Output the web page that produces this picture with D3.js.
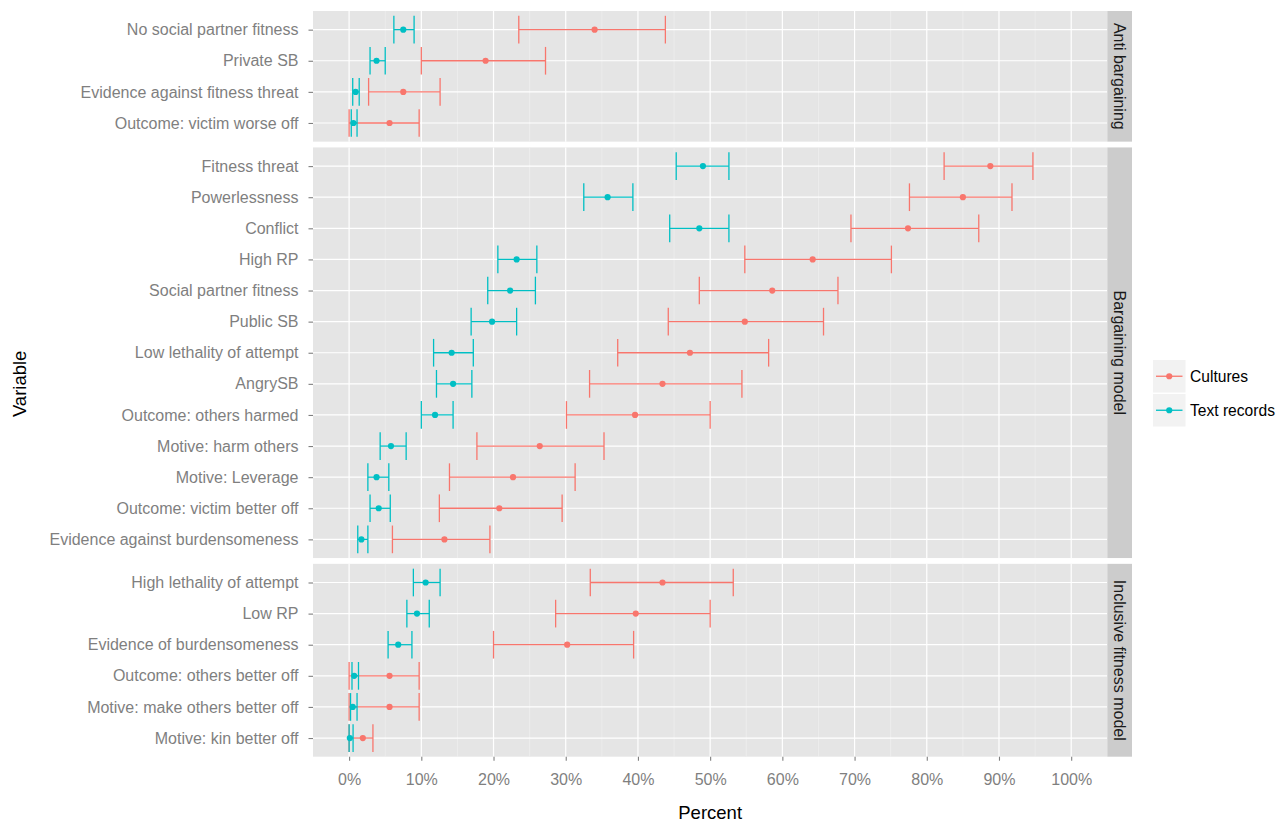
<!DOCTYPE html>
<html>
<head>
<meta charset="utf-8">
<script src="https://cdn.jsdelivr.net/npm/d3@7"></script>
<style>
  body { margin: 0; background: #fff; }
  svg { font-family: "Liberation Sans", Arial, sans-serif; }
</style>
</head>
<body>
<script>
// Data (percent)

const facetNames = ["Anti bargaining", "Bargaining model", "Inclusive fitness model"];

const variableNames = [
  "No social partner fitness", "Private SB", "Evidence against fitness threat", "Outcome: victim worse off",
  "Fitness threat", "Powerlessness", "Conflict", "High RP", "Social partner fitness", "Public SB",
  "Low lethality of attempt", "AngrySB", "Outcome: others harmed", "Motive: harm others",
  "Motive: Leverage", "Outcome: victim better off", "Evidence against burdensomeness",
  "High lethality of attempt", "Low RP", "Evidence of burdensomeness", "Outcome: others better off",
  "Motive: make others better off", "Motive: kin better off"
];
const variableFacet = [0,0,0,0, 1,1,1,1,1,1,1,1,1,1,1,1,1, 2,2,2,2,2,2];

const seriesNames = ["Cultures", "Text records"];
const seriesColors = ["#F8766D", "#00BFC4"];

const culturesMid = [34.0, 18.9, 7.5, 5.6, 88.8, 85.0, 77.4, 64.2, 58.6, 54.8, 47.2, 43.4, 39.6, 26.4, 22.7, 20.8, 13.2, 43.4, 39.7, 30.2, 5.6, 5.6, 1.9];
const culturesLo  = [23.5, 10.0, 2.7, 0.0, 82.4, 77.6, 69.5, 54.8, 48.5, 44.2, 37.2, 33.3, 30.1, 17.7, 13.9, 12.5, 6.0, 33.4, 28.6, 20.0, 0.0, 0.0, 0.0];
const culturesHi  = [43.8, 27.2, 12.6, 9.7, 94.7, 91.8, 87.2, 75.1, 67.7, 65.7, 58.1, 54.4, 50.0, 35.3, 31.3, 29.5, 19.5, 53.2, 50.0, 39.4, 9.7, 9.7, 3.3];

const textMid = [7.5, 3.8, 0.9, 0.6, 49.0, 35.8, 48.5, 23.2, 22.3, 19.8, 14.2, 14.4, 11.9, 5.8, 3.8, 4.1, 1.7, 10.6, 9.4, 6.8, 0.7, 0.5, 0.1];
const textLo  = [6.2, 2.9, 0.5, 0.3, 45.3, 32.5, 44.4, 20.6, 19.2, 16.9, 11.7, 12.1, 10.0, 4.3, 2.6, 2.9, 1.2, 8.9, 8.0, 5.4, 0.4, 0.2, 0.0];
const textHi  = [9.0, 5.0, 1.4, 1.1, 52.6, 39.3, 52.6, 26.0, 25.8, 23.2, 17.2, 17.0, 14.4, 7.9, 5.5, 5.7, 2.6, 12.6, 11.1, 8.7, 1.3, 1.1, 0.55];

const xTicks = d3.range(0, 101, 10);
const xMinor = d3.range(5, 100, 10);

// Layout
const W = 1287, H = 823;
const panelLeft = 313, panelRight = 1107.3;
const panelTop = 11, panelBottom = 756.7, panelGap = 5.8;
const stripW = 24.7;
const pad = 0.6;
const fs = 16;

const svg = d3.select("body").append("svg")
  .attr("width", W).attr("height", H);

const x = d3.scaleLinear().domain([-5, 105]).range([panelLeft, panelRight]);

// rows per facet -> heights proportional (space = "free")
const facetRows = facetNames.map((f, i) => variableNames.filter((v, j) => variableFacet[j] === i));
const units = d3.sum(facetRows, r => r.length - 1 + 2 * pad);
const step = (panelBottom - panelTop - panelGap * (facetNames.length - 1)) / units;

let yCursor = panelTop;
const panels = facetRows.map((rows, i) => {
  const h = step * (rows.length - 1 + 2 * pad);
  const p = { name: facetNames[i], rows: rows, top: yCursor, bottom: yCursor + h };
  p.y = d3.scalePoint().domain(rows).range([p.top, p.bottom]).padding(pad);
  yCursor += h + panelGap;
  return p;
});

// build per-row records from the arrays
const records = [];
variableNames.forEach((v, j) => {
  records.push({ v: v, f: variableFacet[j], s: 0, mid: culturesMid[j], lo: culturesLo[j], hi: culturesHi[j] });
});
variableNames.forEach((v, j) => {
  records.push({ v: v, f: variableFacet[j], s: 1, mid: textMid[j], lo: textLo[j], hi: textHi[j] });
});

const capHalf = step * 0.445;

panels.forEach((p, i) => {
  const g = svg.append("g");

  // panel background
  g.append("rect")
    .attr("x", panelLeft).attr("y", p.top)
    .attr("width", panelRight - panelLeft).attr("height", p.bottom - p.top)
    .attr("fill", "#E5E5E5");

  // minor x grid
  g.selectAll(".minor").data(xMinor).enter().append("line")
    .attr("x1", d => x(d)).attr("x2", d => x(d))
    .attr("y1", p.top).attr("y2", p.bottom)
    .attr("stroke", "#F2F2F2").attr("stroke-width", 0.6);

  // major x grid
  g.selectAll(".major").data(xTicks).enter().append("line")
    .attr("x1", d => x(d)).attr("x2", d => x(d))
    .attr("y1", p.top).attr("y2", p.bottom)
    .attr("stroke", "#FFFFFF").attr("stroke-width", 1.2);

  // y grid
  g.selectAll(".ygrid").data(p.rows).enter().append("line")
    .attr("x1", panelLeft).attr("x2", panelRight)
    .attr("y1", d => p.y(d)).attr("y2", d => p.y(d))
    .attr("stroke", "#FFFFFF").attr("stroke-width", 1.2);

  // strip
  g.append("rect")
    .attr("x", panelRight).attr("y", p.top)
    .attr("width", stripW).attr("height", p.bottom - p.top)
    .attr("fill", "#CCCCCC");
  g.append("text")
    .attr("transform", `translate(${panelRight + stripW / 2},${(p.top + p.bottom) / 2}) rotate(90)`)
    .attr("text-anchor", "middle")
    .attr("dominant-baseline", "central")
    .attr("font-size", fs)
    .attr("fill", "#1A1A1A")
    .text(p.name);

  // y axis
  const ax = g.append("g")
    .attr("transform", `translate(${panelLeft},0)`)
    .call(d3.axisLeft(p.y).tickSize(4.5).tickPadding(10));
  ax.select(".domain").remove();
  ax.selectAll(".tick line").attr("stroke", "#7F7F7F").attr("stroke-width", 1.1);
  ax.selectAll(".tick text").attr("fill", "#7F7F7F").attr("font-size", fs)
    .attr("font-family", '"Liberation Sans", Arial, sans-serif');

  // error bars and points
  const recs = records.filter(r => r.f === i);
  const bars = g.selectAll(".bar").data(recs).enter().append("g")
    .attr("stroke", d => seriesColors[d.s]).attr("stroke-width", 1.3).attr("fill", "none");
  bars.append("line")
    .attr("x1", d => x(d.lo)).attr("x2", d => x(d.hi))
    .attr("y1", d => p.y(d.v)).attr("y2", d => p.y(d.v));
  bars.append("line")
    .attr("x1", d => x(d.lo)).attr("x2", d => x(d.lo))
    .attr("y1", d => p.y(d.v) - capHalf).attr("y2", d => p.y(d.v) + capHalf);
  bars.append("line")
    .attr("x1", d => x(d.hi)).attr("x2", d => x(d.hi))
    .attr("y1", d => p.y(d.v) - capHalf).attr("y2", d => p.y(d.v) + capHalf);

  g.selectAll(".pt").data(recs).enter().append("circle")
    .attr("cx", d => x(d.mid)).attr("cy", d => p.y(d.v))
    .attr("r", 3.1)
    .attr("fill", d => seriesColors[d.s]);
});

// x axis
const xAx = svg.append("g")
  .attr("transform", `translate(0,${panelBottom})`)
  .call(d3.axisBottom(x).tickValues(xTicks).tickFormat(d => d + "%").tickSize(4).tickPadding(12.5));
xAx.select(".domain").remove();
xAx.selectAll(".tick line").attr("stroke", "#7F7F7F").attr("stroke-width", 1.1);
xAx.selectAll(".tick text").attr("fill", "#7F7F7F").attr("font-size", fs)
  .attr("font-family", '"Liberation Sans", Arial, sans-serif');

// axis titles
svg.append("text")
  .attr("x", (panelLeft + panelRight) / 2).attr("y", 819)
  .attr("text-anchor", "middle")
  .attr("font-size", 18.5).attr("fill", "#000")
  .text("Percent");

svg.append("text")
  .attr("transform", `translate(26,${(panelTop + panelBottom) / 2}) rotate(-90)`)
  .attr("text-anchor", "middle")
  .attr("font-size", 18.5).attr("fill", "#000")
  .text("Variable");

// legend
const legend = svg.append("g").attr("transform", "translate(1153,360)");
seriesNames.forEach((s, i) => {
  const lg = legend.append("g").attr("transform", `translate(0,${i * 34})`);
  lg.append("rect").attr("width", 32.5).attr("height", 32.5).attr("fill", "#F2F2F2");
  lg.append("line").attr("x1", 3).attr("x2", 29.5).attr("y1", 16.25).attr("y2", 16.25)
    .attr("stroke", seriesColors[i]).attr("stroke-width", 1.3);
  lg.append("circle").attr("cx", 16.25).attr("cy", 16.25).attr("r", 3.1).attr("fill", seriesColors[i]);
  lg.append("text").attr("x", 37).attr("y", 16.25)
    .attr("dominant-baseline", "central")
    .attr("font-size", fs - 0.4).attr("fill", "#000")
    .text(s);
});
</script>
</body>
</html>
